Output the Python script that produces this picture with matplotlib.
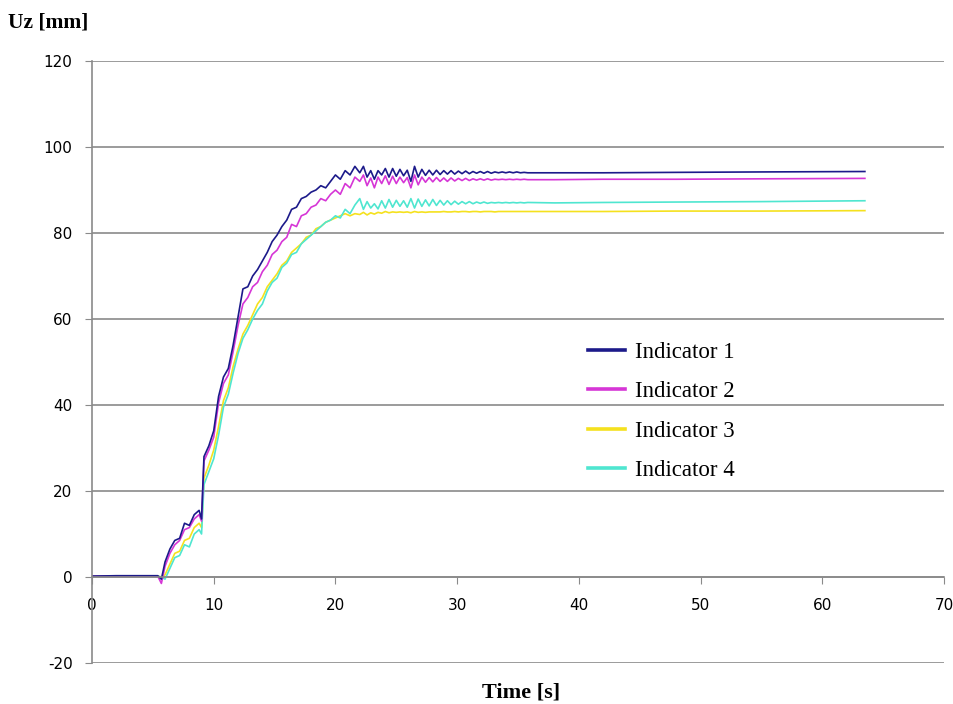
import numpy as np
import matplotlib
matplotlib.use("Agg")
import matplotlib.pyplot as plt

plt.rcParams["axes.unicode_minus"] = False

# time samples [s]
t = [0.0, 2.0, 4.0, 5.4, 5.7,
     6.0, 6.4, 6.8, 7.2, 7.6, 8.0, 8.4, 8.8, 9.0, 9.2,
     9.6, 10.0, 10.4, 10.8, 11.2, 11.6, 12.0, 12.4, 12.8, 13.2,
     13.6, 14.0, 14.4, 14.8, 15.2, 15.6, 16.0, 16.4, 16.8, 17.2,
     17.6, 18.0, 18.4, 18.8, 19.2, 19.6, 20.0, 20.4, 20.8, 21.2, 21.6,
     22.0, 22.3, 22.6, 22.9, 23.2, 23.5, 23.8, 24.1, 24.4, 24.7,
     25.0, 25.3, 25.6, 25.9, 26.2, 26.5, 26.8, 27.1, 27.4, 27.7,
     28.0, 28.3, 28.6, 28.9, 29.2, 29.5, 29.8, 30.1, 30.4, 30.7,
     31.0, 31.3, 31.6, 31.9, 32.2, 32.5, 32.8, 33.1, 33.4, 33.7,
     34.0, 34.3, 34.6, 34.9, 35.2, 35.5, 35.8,
     38.0, 42.0, 48.0, 55.0, 63.5]

# Uz [mm]
ind1 = [0.2, 0.3, 0.3, 0.3, -0.5,
        3.5, 6.5, 8.5, 9.0, 12.5, 12.0, 14.5, 15.5, 13.5, 28.0,
        30.5, 34.0, 42.0, 46.5, 48.5, 54.0, 60.5, 67.0, 67.5, 70.0,
        71.5, 73.5, 75.5, 78.0, 79.5, 81.5, 83.0, 85.5, 86.0, 88.0,
        88.5, 89.5, 90.0, 91.0, 90.5, 92.0, 93.5, 92.5, 94.5, 93.5, 95.5,
        94.0, 95.5, 93.0, 94.5, 92.5, 94.5, 93.5, 95.0, 93.0, 95.0,
        93.2, 94.8, 93.3, 94.6, 92.0, 95.5, 93.0, 94.8, 93.4, 94.6,
        93.5, 94.6, 93.6, 94.5, 93.7, 94.5, 93.7, 94.4, 93.8, 94.4,
        93.8, 94.3, 93.9, 94.3, 93.9, 94.3, 93.9, 94.2, 94.0, 94.2,
        94.0, 94.2, 94.0, 94.2, 94.0, 94.1, 94.0,
        94.0, 94.0, 94.1, 94.2, 94.3]

ind2 = [0.2, 0.2, 0.2, 0.2, -1.5,
        2.5, 5.5, 7.5, 8.5, 11.0, 11.5, 13.5, 14.5, 13.0, 27.0,
        29.5, 32.5, 40.5, 45.0, 47.0, 52.5, 58.5, 63.5, 65.0, 67.5,
        68.5, 71.0, 72.5, 75.0, 76.0, 78.0, 79.0, 82.0, 81.5, 84.0,
        84.5, 86.0, 86.5, 88.0, 87.5, 89.0, 90.0, 89.0, 91.5, 90.5, 93.0,
        92.0, 93.5, 91.0, 92.8, 90.5, 93.0, 91.5, 93.3, 91.3, 93.2,
        91.5, 93.0, 91.7, 92.9, 90.5, 93.5, 91.2, 93.0, 91.8, 92.9,
        91.9, 92.9, 92.0, 92.8, 92.0, 92.8, 92.1, 92.7, 92.2, 92.7,
        92.2, 92.6, 92.3, 92.6, 92.3, 92.6, 92.3, 92.5, 92.4, 92.5,
        92.4, 92.5, 92.4, 92.5, 92.4, 92.5, 92.4,
        92.4, 92.5, 92.5, 92.6, 92.7]

ind3 = [0.2, 0.2, 0.2, 0.2, 0.0,
        0.5, 3.0, 5.5, 6.0, 8.5, 9.0, 11.5, 12.5, 11.5, 23.0,
        26.0, 29.5, 35.0, 41.0, 44.0, 49.0, 53.0, 56.5, 58.5, 61.0,
        63.5, 65.0, 67.5, 69.0, 70.5, 72.5, 73.5, 75.5, 76.5, 77.5,
        79.0, 79.5, 81.0, 81.5, 82.5, 83.0, 83.5, 84.0, 84.5, 84.0, 84.5,
        84.3, 84.8, 84.2, 84.7, 84.4, 84.8, 84.6, 85.0, 84.7, 84.9,
        84.8, 84.9, 84.8, 84.9, 84.7, 85.0, 84.8, 84.9, 84.8, 84.9,
        84.9, 84.9, 84.9, 85.0, 84.9, 84.9, 85.0, 84.9, 85.0, 85.0,
        84.9, 85.0, 85.0, 84.9, 85.0, 85.0, 85.0, 84.9, 85.0, 85.0,
        85.0, 85.0, 85.0, 85.0, 85.0, 85.0, 85.0,
        85.0, 85.0, 85.1, 85.1, 85.2]

ind4 = [0.2, 0.2, 0.2, 0.2, 0.0,
        -0.5, 2.0, 4.5, 5.0, 7.5, 7.0, 10.0, 11.0, 10.0, 21.5,
        24.5, 27.5, 33.0, 39.5, 42.5, 47.5, 52.0, 55.5, 57.5, 60.0,
        62.0, 63.5, 66.5, 68.5, 69.5, 72.0, 73.0, 75.0, 75.5, 77.5,
        78.5, 79.5, 80.5, 81.5, 82.5, 83.0, 84.0, 83.5, 85.5, 84.5, 86.5,
        88.0, 85.5, 87.3, 85.8, 86.8, 85.6, 87.5, 85.8, 87.8, 86.0,
        87.6, 86.2, 87.5, 86.0, 88.0, 85.8, 87.9, 86.2, 87.7, 86.3,
        87.8, 86.4, 87.6, 86.5, 87.5, 86.6, 87.4, 86.7, 87.3, 86.8,
        87.3, 86.8, 87.2, 86.9, 87.2, 86.9, 87.1, 87.0, 87.1, 87.0,
        87.1, 87.0, 87.1, 87.0, 87.1, 87.0, 87.1,
        87.0, 87.1, 87.2, 87.3, 87.5]

labels = ["Indicator 1", "Indicator 2", "Indicator 3", "Indicator 4"]
colors = ["#1c1a8a", "#d636d6", "#f5e11e", "#4fe6d0"]
series = [ind1, ind2, ind3, ind4]

fig = plt.figure(figsize=(9.54, 7.04), dpi=100)
ax = fig.add_axes([92 / 954, 1 - 663 / 704, (944 - 92) / 954, (663 - 61) / 704])

lines = {}
for k in [2, 3, 1, 0]:
    lines[k], = ax.plot(t, series[k], color=colors[k], lw=1.2, label=labels[k])

ax.set_xlim(0, 70)
ax.set_ylim(-20, 120)
ax.set_xticks(np.arange(0, 71, 10))
ax.set_yticks(np.arange(-20, 121, 20))
ax.yaxis.grid(True, color="#8a8a8a", lw=1.2)
ax.set_axisbelow(True)

for s in ["top", "right"]:
    ax.spines[s].set_visible(False)
ax.spines["bottom"].set_position(("data", 0))
ax.spines["bottom"].set_color("#8a8a8a")
ax.spines["left"].set_color("#8a8a8a")
ax.spines["bottom"].set_linewidth(1.2)
ax.spines["left"].set_linewidth(1.2)
ax.tick_params(axis="x", direction="out", length=5, pad=10, color="#8a8a8a", labelsize=11)
ax.tick_params(axis="y", direction="out", length=5, pad=9, color="#8a8a8a", labelsize=11)

fig.text(8 / 954, 1 - 22 / 704, "Uz [mm]", family="Liberation Serif", weight="bold",
         fontsize=15.5, va="center", ha="left")
fig.text(521 / 954, 1 - 693 / 704, "Time [s]", family="Liberation Serif", weight="bold",
         fontsize=16, va="center", ha="center")

leg = ax.legend([lines[k] for k in range(4)], labels, loc="upper left",
                bbox_to_anchor=(588 / 954, 1 - 342 / 704), bbox_transform=fig.transFigure,
                frameon=False, borderpad=0, borderaxespad=0, handlelength=1.6,
                handletextpad=0.45, labelspacing=0.8,
                prop={"family": "Liberation Serif", "size": 16.5})
for h in leg.get_lines():
    h.set_linewidth(2.6)

fig.savefig("out.png", dpi=100)
